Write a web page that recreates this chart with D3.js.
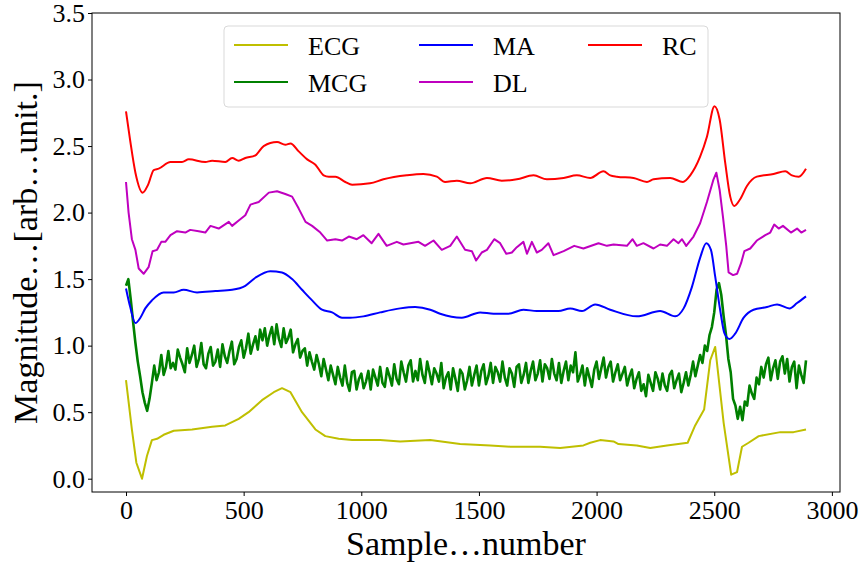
<!DOCTYPE html>
<meta charset="utf-8">
<style>
body { margin: 0; background: #fff; }
text { font-family: "Liberation Serif", "Times New Roman", serif; fill: #000; }
.axis path, .axis line { stroke: #000; stroke-width: 1; }
.series { fill: none; stroke-linejoin: round; }
</style>
<body>
<script src="https://d3js.org/d3.v7.min.js"></script>
<script>

var width = 864,
    height = 565,
    margin = {top: 13, right: 24, bottom: 73, left: 92};

var seriesNames = ["ECG", "MCG", "MA", "DL", "RC"];
var seriesColors = ["#bfbf00", "#008000", "#0000ff", "#bf00bf", "#ff0000"];

var xTicks = [0, 500, 1000, 1500, 2000, 2500, 3000];
var yTicks = [0.0, 0.5, 1.0, 1.5, 2.0, 2.5, 3.0, 3.5];

// [sample, magnitude]
var ecg = [[0,0.74],[25,0.37],[44,0.12],[68,0.0],[89,0.17],[110,0.29],[132,0.30],[160,0.33],[203,0.36],
  [281,0.37],[366,0.39],[422,0.40],[479,0.45],[521,0.50],[578,0.59],[628,0.65],[663,0.68],[699,0.65],
  [748,0.50],[805,0.37],[847,0.32],[904,0.30],[961,0.29],[1080,0.29],[1165,0.28],[1293,0.29],[1420,0.26],
  [1548,0.25],[1633,0.24],[1760,0.24],[1845,0.23],[1944,0.25],[1973,0.27],[2015,0.29],[2072,0.28],
  [2093,0.26],[2171,0.25],[2228,0.23],[2299,0.25],[2387,0.27],[2419,0.40],[2457,0.52],[2483,0.89],
  [2504,0.99],[2540,0.42],[2572,0.03],[2597,0.05],[2618,0.24],[2646,0.27],[2689,0.32],[2781,0.35],
  [2837,0.35],[2890,0.37]];

// MCG, one value every 10 samples from 0 to 2890
var mcgStep = 10;
var mcg = [1.45,1.50,1.35,1.18,1.02,0.88,0.77,0.65,0.57,0.51,
  0.60,0.72,0.85,0.74,0.80,0.93,0.78,0.84,0.96,0.83,
  0.87,0.82,0.97,0.91,0.86,0.80,0.98,0.87,0.93,1.00,
  0.84,0.90,1.02,0.86,0.83,0.94,0.99,0.85,0.88,0.97,
  0.84,1.01,0.92,0.87,0.96,1.03,0.86,0.90,0.99,1.04,
  0.91,0.98,1.09,0.94,1.01,1.07,0.97,1.12,1.04,1.13,
  1.00,1.08,1.14,1.01,1.16,1.05,0.99,1.13,1.02,1.06,
  1.12,0.95,1.01,1.05,0.91,0.96,0.98,0.85,0.95,0.88,
  0.82,0.93,0.86,0.77,0.90,0.82,0.74,0.85,0.78,0.71,
  0.84,0.76,0.70,0.85,0.72,0.66,0.80,0.81,0.67,0.75,
  0.79,0.68,0.73,0.81,0.67,0.82,0.76,0.70,0.84,0.72,
  0.69,0.83,0.77,0.70,0.86,0.75,0.71,0.88,0.80,0.73,
  0.85,0.89,0.73,0.81,0.74,0.90,0.78,0.72,0.88,0.80,
  0.71,0.83,0.79,0.73,0.87,0.68,0.76,0.80,0.67,0.83,
  0.75,0.66,0.82,0.79,0.67,0.74,0.84,0.70,0.78,0.85,
  0.70,0.81,0.86,0.71,0.77,0.87,0.72,0.84,0.80,0.73,
  0.88,0.76,0.70,0.83,0.79,0.69,0.84,0.86,0.72,0.78,
  0.87,0.72,0.81,0.88,0.74,0.79,0.89,0.73,0.86,0.83,
  0.75,0.90,0.79,0.74,0.87,0.72,0.81,0.88,0.74,0.85,
  0.80,0.95,0.73,0.78,0.85,0.70,0.83,0.76,0.69,0.82,
  0.88,0.75,0.83,0.91,0.76,0.84,0.88,0.73,0.80,0.86,
  0.74,0.79,0.84,0.70,0.77,0.82,0.68,0.75,0.80,0.66,
  0.71,0.62,0.78,0.72,0.66,0.80,0.75,0.67,0.79,0.70,
  0.66,0.78,0.81,0.68,0.74,0.79,0.65,0.72,0.80,0.70,
  0.78,0.88,0.77,0.85,0.93,0.87,1.00,0.96,1.08,1.14,
  1.25,1.42,1.47,1.38,1.22,1.08,0.90,0.80,0.60,0.55,
  0.45,0.54,0.44,0.58,0.55,0.70,0.64,0.60,0.76,0.71,
  0.84,0.76,0.86,0.91,0.74,0.83,0.89,0.75,0.88,0.92,
  0.79,0.90,0.73,0.84,0.88,0.68,0.85,0.78,0.72,0.89];

var ma = [[0,1.43],[18,1.29],[40,1.17],[61,1.21],[82,1.28],[110,1.34],[160,1.40],[203,1.40],[245,1.42],
  [302,1.40],[380,1.41],[451,1.42],[507,1.45],[550,1.51],[613,1.56],[663,1.55],[706,1.50],[748,1.42],
  [791,1.34],[833,1.27],[876,1.25],[918,1.21],[952,1.21],[1009,1.22],[1080,1.25],[1165,1.28],[1229,1.29],
  [1293,1.27],[1335,1.24],[1427,1.21],[1505,1.25],[1562,1.24],[1625,1.24],[1689,1.27],[1746,1.26],
  [1838,1.26],[1888,1.28],[1938,1.26],[1994,1.31],[2058,1.27],[2171,1.22],[2270,1.26],[2334,1.22],
  [2370,1.28],[2405,1.44],[2440,1.66],[2466,1.77],[2486,1.72],[2504,1.52],[2525,1.27],[2544,1.09],
  [2565,1.05],[2589,1.09],[2625,1.21],[2667,1.27],[2724,1.29],[2767,1.31],[2820,1.28],[2852,1.32],
  [2890,1.37]];

var dl = [[0,2.23],[11,2.00],[25,1.80],[40,1.72],[54,1.58],[75,1.54],[96,1.59],[113,1.71],[132,1.72],
  [150,1.78],[167,1.78],[189,1.83],[217,1.86],[252,1.85],[273,1.87],[309,1.86],[337,1.85],[359,1.90],
  [394,1.88],[437,1.93],[451,1.90],[479,1.94],[507,1.98],[529,2.06],[564,2.08],[607,2.15],[642,2.16],
  [677,2.14],[706,2.12],[734,2.03],[763,1.93],[791,1.90],[826,1.85],[855,1.79],[890,1.80],[918,1.79],
  [947,1.82],[981,1.80],[1009,1.83],[1044,1.77],[1073,1.84],[1108,1.75],[1151,1.78],[1179,1.76],
  [1243,1.78],[1271,1.75],[1307,1.79],[1342,1.72],[1378,1.75],[1406,1.82],[1441,1.72],[1470,1.71],
  [1488,1.64],[1512,1.70],[1534,1.72],[1565,1.80],[1590,1.77],[1616,1.69],[1640,1.70],[1661,1.74],
  [1689,1.78],[1704,1.69],[1725,1.78],[1746,1.70],[1767,1.72],[1795,1.77],[1817,1.68],[1860,1.71],
  [1905,1.75],[1944,1.73],[2008,1.77],[2044,1.75],[2072,1.76],[2129,1.75],[2153,1.80],[2171,1.75],
  [2199,1.77],[2242,1.73],[2270,1.76],[2299,1.75],[2327,1.80],[2348,1.77],[2363,1.80],[2381,1.75],
  [2412,1.82],[2440,1.92],[2469,2.08],[2497,2.25],[2509,2.30],[2523,2.17],[2537,1.97],[2551,1.75],
  [2561,1.55],[2580,1.53],[2597,1.54],[2614,1.62],[2628,1.71],[2653,1.73],[2681,1.79],[2717,1.83],
  [2738,1.85],[2755,1.91],[2774,1.88],[2792,1.90],[2826,1.85],[2852,1.88],[2870,1.85],[2890,1.87]];

var rc = [[0,2.76],[17,2.55],[40,2.30],[71,2.15],[94,2.21],[118,2.32],[139,2.33],[189,2.38],[238,2.38],
  [267,2.40],[337,2.38],[366,2.39],[422,2.38],[451,2.41],[479,2.39],[507,2.41],[550,2.43],[585,2.50],
  [642,2.53],[677,2.51],[699,2.52],[734,2.46],[770,2.40],[805,2.36],[840,2.28],[862,2.27],[890,2.27],
  [932,2.23],[961,2.21],[1037,2.22],[1094,2.25],[1193,2.28],[1264,2.29],[1321,2.27],[1356,2.23],
  [1406,2.24],[1463,2.22],[1534,2.26],[1597,2.24],[1661,2.25],[1732,2.28],[1789,2.25],[1860,2.26],
  [1916,2.28],[1973,2.26],[2029,2.31],[2058,2.28],[2086,2.27],[2157,2.26],[2214,2.23],[2242,2.25],
  [2313,2.26],[2367,2.23],[2398,2.28],[2440,2.42],[2469,2.57],[2501,2.80],[2523,2.70],[2547,2.37],
  [2568,2.12],[2585,2.05],[2610,2.10],[2639,2.20],[2681,2.27],[2752,2.29],[2802,2.31],[2830,2.28],
  [2859,2.27],[2890,2.33]];

var seriesData = [
  ecg,
  mcg.map(function(v, i) { return [i * mcgStep, v]; }),
  ma,
  dl,
  rc
];

var x = d3.scaleLinear()
    .domain([-144.5, 3034.5])
    .range([margin.left, width - margin.right]);

var y = d3.scaleLinear()
    .domain([-0.1, 3.5])
    .range([height - margin.bottom, margin.top]);

var svg = d3.select("body").append("svg")
    .attr("width", width)
    .attr("height", height);

var lineLinear = d3.line()
    .x(function(d) { return x(d[0]); })
    .y(function(d) { return y(d[1]); });

var lineSmooth = d3.line()
    .curve(d3.curveMonotoneX)
    .x(function(d) { return x(d[0]); })
    .y(function(d) { return y(d[1]); });

svg.selectAll(".series")
    .data(seriesData)
  .enter().append("path")
    .attr("class", "series")
    .style("stroke", function(d, i) { return seriesColors[i]; })
    .style("stroke-width", function(d, i) { return seriesNames[i] == "MCG" ? 2.6 : 2; })
    .attr("d", function(d, i) {
      var n = seriesNames[i];
      return (n == "MA" || n == "RC") ? lineSmooth(d) : lineLinear(d);
    });

// frame
svg.append("rect")
    .attr("x", margin.left)
    .attr("y", margin.top)
    .attr("width", width - margin.left - margin.right)
    .attr("height", height - margin.top - margin.bottom)
    .attr("fill", "none")
    .attr("stroke", "#000")
    .attr("stroke-width", 1);

var xAxis = svg.append("g")
    .attr("class", "axis")
    .attr("transform", "translate(0," + (height - margin.bottom) + ")")
    .call(d3.axisBottom(x).tickValues(xTicks).tickSize(4).tickPadding(5).tickSizeOuter(0)
      .tickFormat(d3.format("d")));

var yAxis = svg.append("g")
    .attr("class", "axis")
    .attr("transform", "translate(" + margin.left + ",0)")
    .call(d3.axisLeft(y).tickValues(yTicks).tickSize(4).tickPadding(3).tickSizeOuter(0)
      .tickFormat(d3.format(".1f")));

svg.selectAll(".axis .domain").remove();
svg.selectAll(".axis text").style("font-size", "26px");

svg.append("text")
    .attr("x", (margin.left + width - margin.right) / 2)
    .attr("y", 555)
    .attr("text-anchor", "middle")
    .style("font-size", "34px")
    .text("Sample\u2026number");

svg.append("text")
    .attr("transform", "translate(37," + ((margin.top + height - margin.bottom) / 2) + ") rotate(-90)")
    .attr("text-anchor", "middle")
    .style("font-size", "34px")
    .text("Magnitude\u2026[arb\u2026unit.]");

// legend, 3 columns x 2 rows, filled column by column
var legendCols = [234, 419, 588];
var legendRows = [45, 82];

var legend = svg.append("g");

legend.append("rect")
    .attr("x", 224)
    .attr("y", 26)
    .attr("width", 484)
    .attr("height", 81)
    .attr("rx", 4)
    .attr("fill", "#fff")
    .attr("fill-opacity", 0.8)
    .attr("stroke", "#d9d9d9")
    .attr("stroke-width", 1);

var entry = legend.selectAll(".entry")
    .data(seriesNames)
  .enter().append("g")
    .attr("class", "entry")
    .attr("transform", function(d, i) {
      return "translate(" + legendCols[Math.floor(i / 2)] + "," + legendRows[i % 2] + ")";
    });

entry.append("line")
    .attr("x1", 0)
    .attr("x2", 54)
    .attr("stroke", function(d, i) { return seriesColors[i]; })
    .attr("stroke-width", 2);

entry.append("text")
    .attr("x", 74)
    .attr("y", 10)
    .style("font-size", "26px")
    .text(function(d) { return d; });

</script>
